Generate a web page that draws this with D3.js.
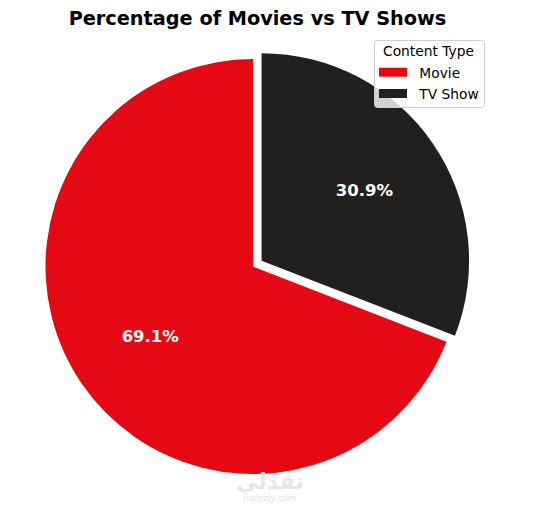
<!DOCTYPE html>
<html><head><meta charset="utf-8">
<script src="https://cdn.jsdelivr.net/npm/d3@7"></script>
<style>body{margin:0;background:#fff}svg{display:block}</style>
</head><body>
<script>
const categories = ["Movie", "TV Show"];
const values = [69.1, 30.9];
const colors = ["#E50914", "#221F1F"];
const explode = [0, 0.05];
const title = "Percentage of Movies vs TV Shows";
const legendTitle = "Content Type";

const W = 540, H = 505;
const cx = 253, cy = 266.5, R = 207.5;
const svg = d3.select("body").append("svg").attr("width", W).attr("height", H)
  .style("font-family", "DejaVu Sans, sans-serif");

// matplotlib-like: startangle 90, counterclockwise. d3 angles are clockwise from 12 o'clock.
const total = d3.sum(values);
const pie = d3.pie().sort(null).value(d => d)
  .startAngle(0).endAngle(-2 * Math.PI);
const arcs = pie(values);
const arc = d3.arc().innerRadius(0).outerRadius(R);
const labelArc = d3.arc().innerRadius(R * 0.6).outerRadius(R * 0.6);

const g = svg.append("g").attr("transform", `translate(${cx},${cy})`);
arcs.forEach((a, i) => {
  const mid = (a.startAngle + a.endAngle) / 2;
  const off = explode[i] * R;
  const dx = off * Math.sin(mid), dy = -off * Math.cos(mid);
  const gg = g.append("g").attr("transform", `translate(${dx},${dy})`);
  gg.append("path").attr("d", arc(a)).attr("fill", colors[i]);
  const [lx, ly] = labelArc.centroid(a);
  gg.append("text").attr("x", lx).attr("y", ly).attr("dy", "0.33em")
    .attr("text-anchor", "middle").attr("fill", "#fff")
    .attr("font-weight", "bold").attr("font-size", 16.5)
    .text((values[i] / total * 100).toFixed(1) + "%");
});

svg.append("text").attr("x", 257.5).attr("y", 25).attr("text-anchor", "middle")
  .attr("font-weight", "bold").attr("font-size", 19.3).attr("fill", "#000").text(title);

// watermark
svg.append("text").attr("x", 270).attr("y", 489).attr("text-anchor", "middle")
  .attr("font-size", 22).attr("font-weight", "bold").attr("fill", "#e6e6e6")
  .style("font-family", "DejaVu Sans, Noto Sans, sans-serif").text("نفذلي");
svg.append("text").attr("x", 270).attr("y", 501).attr("text-anchor", "middle")
  .attr("font-size", 9).attr("fill", "#e3e3e3").text("nafezly.com");

// legend
const lg = svg.append("g").attr("transform", "translate(374.5,40.5)");
lg.append("rect").attr("width", 110).attr("height", 67).attr("rx", 3)
  .attr("fill", "#fff").attr("fill-opacity", 0.8).attr("stroke", "#ccc");
lg.append("text").attr("x", 54).attr("y", 15.5).attr("text-anchor", "middle")
  .attr("font-size", 13.8).attr("fill", "#000").text(legendTitle);
categories.forEach((c, i) => {
  const y = 27.2 + i * 21.3;
  lg.append("rect").attr("x", 4.5).attr("y", y).attr("width", 28).attr("height", 9).attr("fill", colors[i]);
  lg.append("text").attr("x", 44.8).attr("y", y + 10.3).attr("font-size", 13.8).attr("fill", "#000").text(c);
});
</script>
</body></html>
